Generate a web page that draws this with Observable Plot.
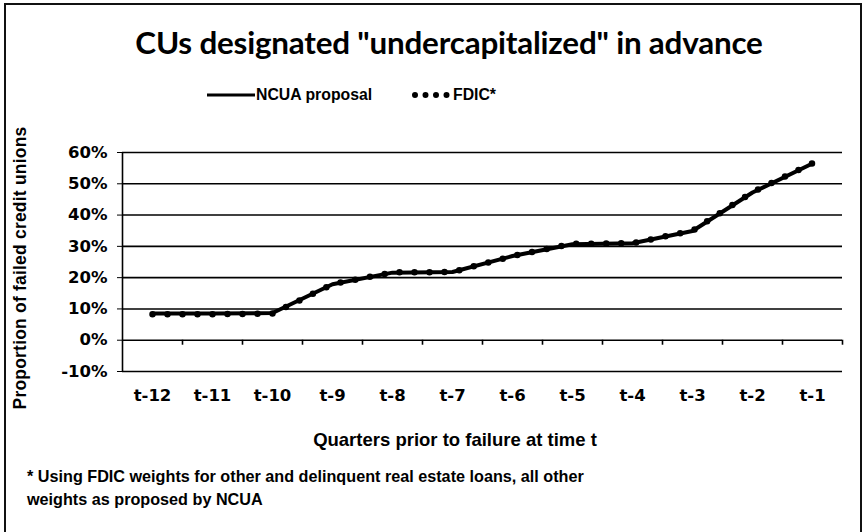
<!DOCTYPE html>
<html>
<head>
<meta charset="utf-8">
<script src="https://cdn.jsdelivr.net/npm/d3@7"></script>
<script src="https://cdn.jsdelivr.net/npm/@observablehq/plot@0.6"></script>
<style>
  html, body { margin: 0; padding: 0; background: #fff; }
  #wrap { position: relative; width: 868px; height: 532px; overflow: hidden; background: #fff;
          font-family: "Liberation Sans", Arial, sans-serif; color: #000; }
  #frame { position: absolute; left: 4px; top: 3px; width: 858px; height: 540px;
           border: 2px solid #111; box-sizing: border-box; }
  #title { position: absolute; left: 0; width: 898px; top: 23px; text-align: center;
           font-family: Lato, "Open Sans", sans-serif; font-weight: 700; font-size: 31.4px; letter-spacing: -0.2px; }
  .lg { position: absolute; top: 85px; font-weight: 700; font-size: 15.8px; line-height: 19px; }
  #ytitle { position: absolute; left: 20px; top: 268px; transform: translate(-50%, -50%) rotate(-90deg);
            white-space: nowrap; font-weight: 700; font-size: 17.5px; letter-spacing: 0.2px; }
  #xtitle { position: absolute; left: 0; width: 910px; top: 429px; text-align: center; font-weight: 700; font-size: 18.5px; }
  #foot { position: absolute; left: 27px; top: 465px; font-weight: 700; font-size: 16.2px; line-height: 23px; }
  #chart { position: absolute; left: 0; top: 120px; }
  #chart svg { background: transparent; }
</style>
</head>
<body>
<div id="wrap">
  <div id="frame"></div>
  <div id="title">CUs designated "undercapitalized" in advance</div>
  <svg style="position:absolute;left:0;top:0" width="868" height="130">
    <line x1="207" x2="255" y1="95" y2="95" stroke="#000" stroke-width="3"/>
    <line x1="415" x2="447" y1="95" y2="95" stroke="#000" stroke-width="6" stroke-dasharray="0 10.5" stroke-linecap="round"/>
  </svg>
  <div class="lg" style="left:256px">NCUA proposal</div>
  <div class="lg" style="left:453px">FDIC*</div>
  <div id="ytitle">Proportion of failed credit unions</div>
  <div id="chart"></div>
  <div id="xtitle">Quarters prior to failure at time t</div>
  <div id="foot">* Using FDIC weights for other and delinquent real estate loans, all other<br>weights as proposed by NCUA</div>
</div>
<script>
// Quarters prior to failure (t-12 ... t-1)
const quarters = [-12, -11, -10, -9, -8, -7, -6, -5, -4, -3, -2, -1];
// Proportion of failed credit unions designated undercapitalized (%)
const ncua = [8.5, 8.5, 8.7, 17.9, 21.6, 21.8, 26.9, 30.7, 31.0, 34.9, 47.2, 56.5];
const fdic = [8.3, 8.3, 8.5, 17.9, 21.7, 21.8, 26.9, 30.8, 31.0, 35.0, 47.3, 56.6];
const yTicks = [-10, 0, 10, 20, 30, 40, 50, 60];

const ncuaData = quarters.map((q, i) => ({q, v: ncua[i]}));
const fdicData = quarters.map((q, i) => ({q, v: fdic[i]}));
const bounds = quarters.map(q => q + 0.5);
const gridTicks = yTicks.filter(t => t !== 0);

const plot = Plot.plot({
  width: 868,
  height: 340,
  marginLeft: 122,
  marginRight: 26,
  marginTop: 32,
  marginBottom: 89,
  style: {fontFamily: '"DejaVu Sans", sans-serif', fontSize: "16.5px", fontWeight: "700", color: "#000", background: "transparent"},
  x: {domain: [-12.5, -0.5], label: null},
  y: {domain: [-10, 60], label: null},
  marks: [
    Plot.ruleY(gridTicks, {stroke: "#000", strokeWidth: 1.6}),
    Plot.ruleY([0], {stroke: "#000", strokeWidth: 1.6}),
    Plot.ruleX(bounds, {y1: 0, y2: -1.6, stroke: "#000", strokeWidth: 1.6}),
    Plot.ruleX([-12.5], {y1: -10, y2: 60, stroke: "#000", strokeWidth: 1.6}),
    Plot.axisY({ticks: yTicks, tickSize: 5, tickPadding: 10, tickFormat: d => d + "%", fontSize: 16.5, fontWeight: 700}),
    Plot.axisX({ticks: quarters, tickSize: 0, tickPadding: 18, tickFormat: d => "t" + d, fontSize: 16.5, fontWeight: 700}),
    Plot.line(ncuaData, {x: "q", y: "v", stroke: "#000", strokeWidth: 4}),
    Plot.line(fdicData, {x: "q", y: "v", stroke: "#000", strokeWidth: 6.5, strokeDasharray: "0 15", strokeLinecap: "round"})
  ]
});
document.getElementById("chart").appendChild(plot);
</script>
</body>
</html>
